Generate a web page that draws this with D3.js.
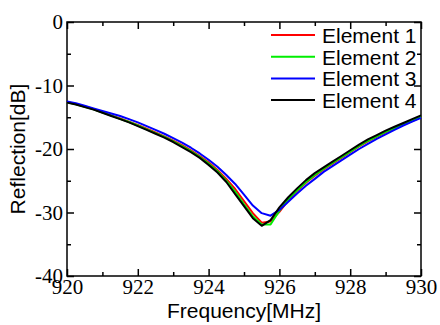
<!DOCTYPE html>
<html>
<head>
<meta charset="utf-8">
<script src="https://cdn.jsdelivr.net/npm/d3@7"></script>
<style>
  html, body { margin: 0; padding: 0; background: #fff; }
  svg { display: block; }
  .tick-label { font-family: "Liberation Serif", "DejaVu Serif", "Times New Roman", serif; font-size: 21px; }
  .sans-label { font-family: "Liberation Sans", Arial, sans-serif; font-size: 21px; }
</style>
</head>
<body>
<div id="chart"></div>
<script>
// frequency grid [MHz]
const freq = d3.range(41).map(i => 920 + i * 0.25)

// reflection [dB]
const element1 = [
  -12.6, -12.9, -13.3, -13.7, -14.2, -14.7, -15.2, -15.7, -16.2, -16.8,
  -17.4, -18.0, -18.7, -19.4, -20.2, -21.1, -22.1, -23.3, -24.7, -26.3,
  -28.2, -30.1, -31.6, -31.4, -29.9, -28.1, -26.6, -25.3, -24.2, -23.2,
  -22.3, -21.4, -20.5, -19.6, -18.8, -18.1, -17.4, -16.8, -16.2, -15.6, -15.0
]
const element2 = [
  -12.65, -12.95, -13.35, -13.75, -14.25, -14.75, -15.25, -15.75, -16.3, -16.9,
  -17.5, -18.1, -18.8, -19.55, -20.35, -21.25, -22.3, -23.5, -25.0, -26.7,
  -28.7, -30.6, -31.9, -31.9, -29.7, -27.9, -26.5, -25.2, -24.1, -23.1,
  -22.2, -21.3, -20.4, -19.5, -18.7, -18.0, -17.3, -16.7, -16.1, -15.5, -14.9
]
const element3 = [
  -12.5, -12.8, -13.2, -13.6, -14.0, -14.4, -14.8, -15.3, -15.8, -16.4,
  -17.0, -17.6, -18.3, -19.0, -19.8, -20.7, -21.7, -22.8, -24.1, -25.5,
  -27.2, -28.9, -30.1, -30.5, -29.6, -28.3, -27.0, -25.8, -24.7, -23.6,
  -22.7, -21.8, -20.9, -20.0, -19.2, -18.4, -17.7, -17.0, -16.3, -15.7, -15.1
]
const element4 = [
  -12.7, -13.0, -13.4, -13.8, -14.3, -14.8, -15.3, -15.8, -16.4, -17.0,
  -17.6, -18.2, -18.9, -19.7, -20.5, -21.4, -22.5, -23.7, -25.2, -27.1,
  -29.0, -30.9, -32.1, -31.2, -29.2, -27.6, -26.2, -24.9, -23.8, -22.9,
  -22.0, -21.1, -20.2, -19.3, -18.5, -17.8, -17.1, -16.5, -15.9, -15.3, -14.7
]

const seriesNames  = ['Element 1', 'Element 2', 'Element 3', 'Element 4']
const seriesValues = [element1, element2, element3, element4]
const seriesColors = ['#ff0000', '#00ee00', '#0000ff', '#000000']

const xMajor = [920, 922, 924, 926, 928, 930]
const xMinor = [921, 923, 925, 927, 929]
const yMajor = [0, -10, -20, -30, -40]
const yMinor = [-5, -15, -25, -35]

const W = 440, H = 325
const margin = { top: 22, right: 19, bottom: 49, left: 67 }
const width  = W - margin.left - margin.right
const height = H - margin.top - margin.bottom

const svg = d3.select('#chart')
  .append('svg')
  .attr('width', W)
  .attr('height', H)

const g = svg.append('g')
  .attr('transform', `translate(${margin.left},${margin.top})`)

const x = d3.scaleLinear().domain([920, 930]).range([0, width])
const y = d3.scaleLinear().domain([-40, 0]).range([height, 0])

// plain hyphen, not the unicode minus d3.format gives
const plain = d => String(d)

function styleAxis(sel, labels) {
  sel.attr('font-family', null).attr('font-size', null)
  sel.select('.domain').remove()
  sel.selectAll('line').attr('stroke', '#000').attr('stroke-width', 1.5)
  sel.selectAll('text')
    .attr('fill', '#000')
    .attr('class', 'tick-label')
  if (!labels) sel.selectAll('text').remove()
}

// bottom
g.append('g').attr('transform', `translate(0,${height})`)
  .call(d3.axisBottom(x).tickValues(xMajor).tickSize(-7).tickPadding(3).tickFormat(plain))
  .call(s => styleAxis(s, true))
g.append('g').attr('transform', `translate(0,${height})`)
  .call(d3.axisBottom(x).tickValues(xMinor).tickSize(-4).tickFormat(''))
  .call(s => styleAxis(s, false))
// top
g.append('g')
  .call(d3.axisTop(x).tickValues(xMajor).tickSize(-7).tickFormat(''))
  .call(s => styleAxis(s, false))
g.append('g')
  .call(d3.axisTop(x).tickValues(xMinor).tickSize(-4).tickFormat(''))
  .call(s => styleAxis(s, false))
// left
g.append('g')
  .call(d3.axisLeft(y).tickValues(yMajor).tickSize(-7).tickPadding(4).tickFormat(plain))
  .call(s => styleAxis(s, true))
g.append('g')
  .call(d3.axisLeft(y).tickValues(yMinor).tickSize(-4).tickFormat(''))
  .call(s => styleAxis(s, false))
// right
g.append('g').attr('transform', `translate(${width},0)`)
  .call(d3.axisRight(y).tickValues(yMajor).tickSize(-7).tickFormat(''))
  .call(s => styleAxis(s, false))
g.append('g').attr('transform', `translate(${width},0)`)
  .call(d3.axisRight(y).tickValues(yMinor).tickSize(-4).tickFormat(''))
  .call(s => styleAxis(s, false))

// frame
g.append('rect')
  .attr('width', width).attr('height', height)
  .attr('fill', 'none').attr('stroke', '#000').attr('stroke-width', 1.5)

// curves
const line = d3.line()
  .x((d, i) => x(freq[i]))
  .y(d => y(d))

g.selectAll('.curve')
  .data(seriesValues)
  .join('path')
  .attr('class', 'curve')
  .attr('d', line)
  .attr('fill', 'none')
  .attr('stroke', (d, i) => seriesColors[i])
  .attr('stroke-width', 2)
  .attr('stroke-linejoin', 'round')

// legend
const legend = g.append('g').attr('transform', `translate(${204},${13})`)
seriesNames.forEach((name, i) => {
  const row = legend.append('g').attr('transform', `translate(0,${i * 21.7})`)
  row.append('line')
    .attr('x1', 0).attr('x2', 44)
    .attr('stroke', seriesColors[i]).attr('stroke-width', 2)
  row.append('text')
    .attr('class', 'sans-label')
    .attr('x', 51).attr('y', 8)
    .attr('fill', '#000')
    .text(name)
})

// axis titles
svg.append('text')
  .attr('class', 'sans-label')
  .attr('x', margin.left + width / 2).attr('y', 318)
  .attr('text-anchor', 'middle')
  .text('Frequency[MHz]')

svg.append('text')
  .attr('class', 'sans-label')
  .attr('transform', `translate(25,${margin.top + height / 2}) rotate(-90)`)
  .attr('text-anchor', 'middle')
  .text('Reflection[dB]')
</script>
</body>
</html>
